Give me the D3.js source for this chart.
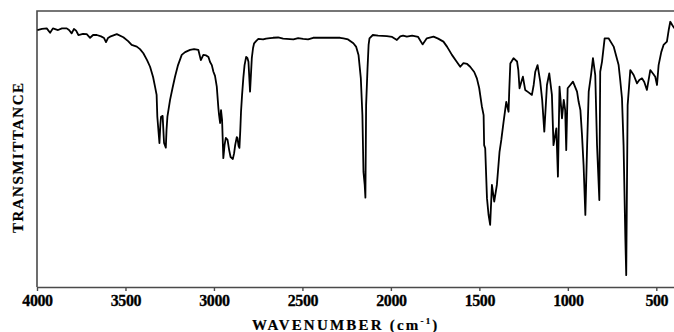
<!DOCTYPE html>
<html>
<head>
<meta charset="utf-8">
<script src="https://cdn.jsdelivr.net/npm/d3@7"></script>
<style>
  html, body { margin: 0; padding: 0; background: #fff; }
  svg { display: block; }
</style>
</head>
<body>
<div id="chart"></div>
<script>
// IR spectrum: wavenumber (cm-1) and transmittance (%)
const wavenumbers = [
  3998, 3972, 3945, 3926, 3910, 3881, 3859, 3832, 3819, 3804, 3791, 3779, 3766, 3740, 3719, 3700,
  3683, 3662, 3638, 3621, 3610, 3599, 3587, 3549, 3512, 3485, 3465, 3436, 3418, 3399, 3378, 3361,
  3344, 3333, 3324, 3320, 3314, 3308, 3303, 3299, 3290, 3282, 3272, 3268, 3263, 3248, 3234, 3220,
  3203, 3182, 3163, 3135, 3112, 3088, 3074, 3060, 3044, 3031, 3022, 3012, 3003, 2994, 2984, 2975,
  2971, 2965, 2960, 2954, 2947, 2940, 2933, 2923, 2914, 2906, 2893, 2886, 2880, 2871, 2867, 2861,
  2856, 2851, 2847, 2841, 2834, 2827, 2818, 2811, 2805, 2801, 2796, 2791, 2786, 2779, 2773, 2762,
  2749, 2722, 2705, 2683, 2666, 2637, 2609, 2551, 2524, 2496, 2468, 2439, 2372, 2287, 2268, 2242,
  2212, 2196, 2183, 2170, 2161, 2155, 2148, 2144, 2140, 2132, 2126, 2121, 2102, 2072, 2023, 1993,
  1966, 1947, 1931, 1910, 1880, 1846, 1821, 1797, 1759, 1733, 1703, 1682, 1655, 1631, 1608, 1590,
  1569, 1552, 1529, 1514, 1501, 1486, 1476, 1473, 1467, 1457, 1448, 1439, 1429, 1416, 1401, 1386,
  1376, 1363, 1348, 1335, 1331, 1325, 1307, 1287, 1280, 1273, 1263, 1254, 1241, 1224, 1203, 1193,
  1184, 1171, 1156, 1145, 1133, 1118, 1105, 1090, 1081, 1065, 1056, 1047, 1033, 1023, 1015, 1009,
  1001, 986, 971, 948, 939, 929, 920, 911, 901, 891, 882, 869, 858, 845, 835, 822,
  817, 807, 792, 770, 741, 713, 704, 694, 685, 675, 670, 662, 647, 628, 609, 596,
  581, 568, 553, 534, 517, 506, 496, 487, 472, 459, 440, 430, 421, 410, 398
];
const transmittance = [
  93.1, 93.5, 93.7, 92.1, 93.7, 93.1, 93.7, 93.7, 93.1, 91.9, 93.5, 92.9, 91.3, 91.7, 91.6, 90.3,
  91.3, 91.3, 90.8, 90.2, 88.7, 90.2, 90.7, 91.6, 90.5, 89.1, 87.7, 87.1, 86.2, 84.7, 82.2, 79.8,
  76.1, 72.6, 69.6, 61.7, 56.9, 52.1, 58.7, 61.7, 62.0, 52.2, 50.5, 56.9, 61.7, 67.8, 72.1, 76.2,
  80.4, 84.1, 85.1, 85.9, 86.2, 85.9, 82.2, 84.1, 83.9, 83.3, 81.5, 80.4, 78.0, 76.5, 72.6, 64.9,
  62.3, 59.4, 64.1, 60.5, 46.7, 51.4, 54.0, 53.3, 49.6, 47.1, 46.4, 48.5, 51.4, 54.3, 54.0, 51.1,
  50.4, 56.9, 63.5, 69.6, 75.7, 80.4, 83.4, 83.0, 81.6, 76.8, 70.8, 76.8, 82.9, 86.6, 88.3, 89.1,
  89.9, 89.7, 90.0, 90.2, 90.3, 90.4, 90.0, 89.7, 90.2, 89.9, 89.7, 90.3, 90.3, 90.3, 90.1, 89.7,
  88.3, 87.0, 84.1, 75.7, 62.3, 41.7, 37.0, 32.4, 65.9, 79.3, 87.7, 90.1, 91.3, 91.1, 90.9, 90.6,
  89.5, 90.8, 91.1, 90.7, 91.1, 90.6, 87.9, 90.1, 90.7, 90.0, 88.9, 87.0, 84.1, 81.9, 79.8, 81.1,
  80.8, 79.8, 77.9, 75.6, 72.1, 65.5, 62.3, 51.4, 50.3, 32.2, 26.1, 22.5, 37.0, 30.9, 37.0, 49.0,
  53.3, 59.9, 67.1, 63.5, 71.4, 81.0, 82.9, 81.7, 78.7, 72.0, 74.3, 76.2, 71.4, 70.6, 69.6, 73.2,
  78.0, 80.4, 74.4, 67.8, 56.3, 73.2, 77.4, 69.6, 51.4, 57.5, 40.0, 72.6, 61.1, 67.8, 64.1, 49.6,
  72.0, 73.2, 74.4, 70.8, 67.1, 64.1, 55.1, 44.2, 26.1, 51.4, 70.8, 76.8, 82.9, 76.8, 51.4, 31.5,
  78.0, 81.6, 90.1, 90.1, 87.1, 80.4, 75.0, 68.4, 51.4, 17.8, 4.3, 65.9, 78.6, 76.8, 73.8, 75.0,
  75.6, 74.3, 71.4, 78.6, 77.2, 76.2, 73.2, 80.4, 85.1, 87.7, 88.9, 93.1, 96.1, 94.9, 93.7
];
const tickValues = [4000, 3500, 3000, 2500, 2000, 1500, 1000, 500];
const xTitle = 'WAVENUMBER (cm';
const yTitle = 'TRANSMITTANCE';

const width = 674;
const height = 332;
const margin = { t: 11, r: 0, l: 37, b: 45 };
const serif = '"Liberation Serif", "DejaVu Serif", serif';

const svg = d3.select('#chart').append('svg')
  .attr('width', width)
  .attr('height', height)
  .attr('viewBox', [0, 0, width, height]);

const x = d3.scaleLinear()
  .domain([4000, 400])
  .range([margin.l, width - margin.r]);

const y = d3.scaleLinear()
  .domain([0, 100])
  .range([height - margin.b, margin.t]);

// frame: top and left edges
svg.append('path')
  .attr('d', `M${width},${margin.t}H${margin.l}V${height - margin.b}`)
  .attr('fill', 'none')
  .attr('stroke', '#4a4a4a')
  .attr('stroke-width', 1.6);

const axisBottom = d3.axisBottom(x)
  .tickValues(tickValues)
  .tickSize(4)
  .tickSizeOuter(0)
  .tickFormat(d3.format('d'));

svg.append('g')
  .attr('transform', `translate(0,${height - margin.b})`)
  .call(axisBottom)
  .call(g => g.select('.domain').attr('stroke', '#4a4a4a').attr('stroke-width', 1.6))
  .call(g => g.selectAll('.tick line').attr('stroke', '#4a4a4a').attr('stroke-width', 1.4))
  .call(g => g.selectAll('.tick text')
    .attr('y', 8)
    .attr('fill', '#000')
    .attr('font-family', serif)
    .attr('font-weight', 'bold')
    .attr('font-size', 16)
    .attr('stroke', '#000')
    .attr('stroke-width', 0.3)
    .attr('letter-spacing', -0.4));

const points = wavenumbers.map((w, i) => [w, transmittance[i]]);

const line = d3.line()
  .x(d => x(d[0]))
  .y(d => y(d[1]));

svg.append('path')
  .datum(points)
  .attr('d', line)
  .attr('fill', 'none')
  .attr('stroke', '#000')
  .attr('stroke-width', 1.8)
  .attr('stroke-linejoin', 'round');

// axis titles
const xt = svg.append('text')
  .attr('x', 252)
  .attr('y', 330)
  .attr('fill', '#000')
  .attr('font-family', serif)
  .attr('font-weight', 'bold')
  .attr('font-size', 15)
  .attr('letter-spacing', 2.2)
  .attr('stroke', '#000')
  .attr('stroke-width', 0.2);
xt.append('tspan').text(xTitle);
xt.append('tspan').attr('dy', -6).attr('font-size', 9).text('-1');
xt.append('tspan').attr('dy', 6).text(')');

svg.append('text')
  .attr('transform', 'translate(23,158) rotate(-90)')
  .attr('text-anchor', 'middle')
  .attr('fill', '#000')
  .attr('font-family', serif)
  .attr('font-weight', 'bold')
  .attr('font-size', 15)
  .attr('textLength', 150)
  .attr('lengthAdjust', 'spacing')
  .attr('stroke', '#000')
  .attr('stroke-width', 0.2)
  .text(yTitle);
</script>
</body>
</html>
